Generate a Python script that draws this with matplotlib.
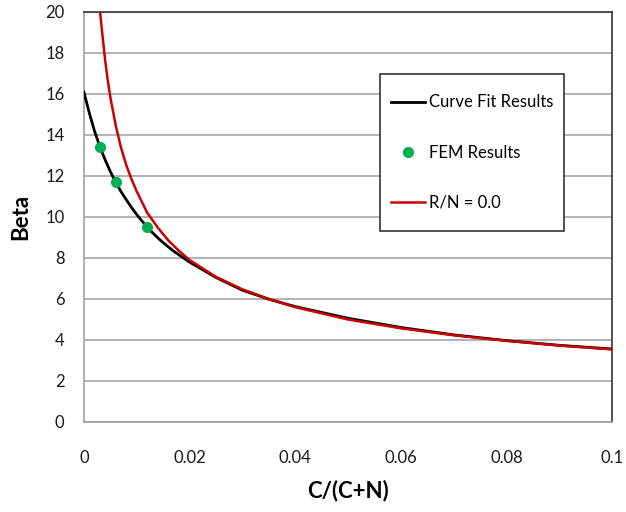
import matplotlib
matplotlib.use("Agg")
import matplotlib.pyplot as plt
from matplotlib.patches import Rectangle

plt.rcParams['font.family'] = ['Lato', 'DejaVu Sans']

# values
fit_x = [0.0, 0.001, 0.002, 0.003, 0.004, 0.005, 0.006, 0.007, 0.008, 0.009,
         0.010, 0.011, 0.012, 0.013, 0.014, 0.015, 0.017, 0.020, 0.025,
         0.030, 0.035, 0.040, 0.050, 0.060, 0.070, 0.080, 0.090, 0.100]
fit_y = [16.1, 15.1, 14.2, 13.45, 12.8, 12.22, 11.7, 11.25, 10.85, 10.47,
         10.12, 9.8, 9.5, 9.23, 8.98, 8.75, 8.33, 7.8, 7.05,
         6.43, 5.99, 5.63, 5.06, 4.61, 4.25, 3.97, 3.74, 3.56]

fem_x = [0.003, 0.006, 0.012]
fem_y = [13.4, 11.7, 9.5]

rn_x = [0.0029, 0.0035, 0.004, 0.0045, 0.005, 0.006, 0.007, 0.008, 0.009,
        0.010, 0.012, 0.014, 0.016, 0.018, 0.020, 0.025, 0.030, 0.035,
        0.040, 0.050, 0.060, 0.070, 0.080, 0.090, 0.100]
rn_y = [20.4, 18.9, 17.7, 16.7, 15.85, 14.5, 13.4, 12.55, 11.85,
        11.25, 10.2, 9.48, 8.85, 8.35, 7.9, 7.08, 6.47, 6.0,
        5.6, 5.0, 4.57, 4.23, 3.96, 3.73, 3.54]

fig = plt.figure(figsize=(6.26, 5.12), dpi=100)
ax = fig.add_axes([0.134, 0.1758, 0.844, 0.8008])

ax.plot(fit_x, fit_y, color='black', lw=2, label='Curve Fit Results', zorder=3)
ax.plot(fem_x, fem_y, 'o', color='#00b050', ms=7, label='FEM Results', zorder=4)
ax.plot(rn_x, rn_y, color='#cc0000', lw=1.8, label='R/N = 0.0', zorder=3)

ax.set_xlim(0, 0.1)
ax.set_ylim(0, 20)
ax.set_xticks([0, 0.02, 0.04, 0.06, 0.08, 0.1])
ax.set_xticklabels(['0', '0.02', '0.04', '0.06', '0.08', '0.1'])
ax.set_yticks(range(0, 21, 2))
ax.tick_params(length=0, labelsize=12, colors='#1a1a1a')
ax.tick_params(axis='x', pad=20)
ax.tick_params(axis='y', pad=14)

ax.yaxis.grid(True, color='#a6a6a6', lw=1.2)
ax.set_axisbelow(True)
for s in ['left', 'bottom']:
    ax.spines[s].set_color('#a0a0a0')
    ax.spines[s].set_linewidth(1.2)
for s in ['top', 'right']:
    ax.spines[s].set_color('#333333')
    ax.spines[s].set_linewidth(1.2)

ax.set_xlabel('C/(C+N)', fontsize=16, fontweight='bold', labelpad=10)
ax.set_ylabel('Beta', fontsize=16, fontweight='bold', labelpad=10)

# legend box
ax.add_patch(Rectangle((0.5606, 0.466), 0.3484, 0.383, transform=ax.transAxes,
                       facecolor='white', edgecolor='#333333', lw=1.2, zorder=5))
ax.legend(loc='center', bbox_to_anchor=(0.735, 0.657), frameon=False,
          fontsize=12, labelspacing=2.05, handlelength=2.0, handletextpad=0.25,
          numpoints=1).set_zorder(6)

fig.savefig('out.png', dpi=100)
